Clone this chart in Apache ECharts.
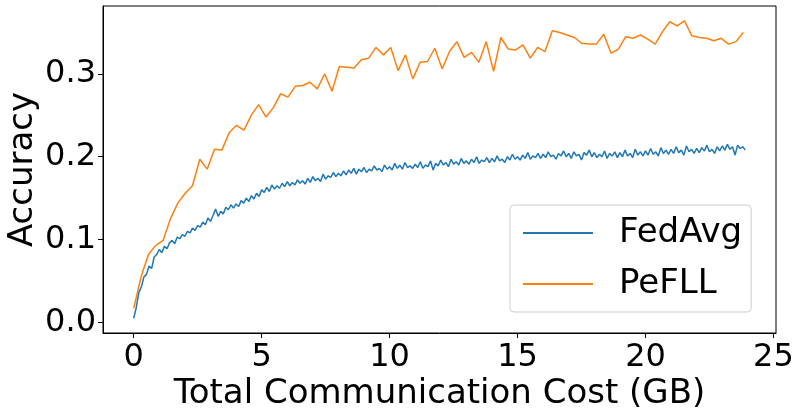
<!DOCTYPE html>
<html>
<head>
<meta charset="utf-8">
<script src="https://cdn.jsdelivr.net/npm/echarts@6/dist/echarts.min.js"></script>
<style>
  html, body { margin: 0; padding: 0; background: #fff; }
  #chart { width: 800px; height: 416px; }
</style>
</head>
<body>
<div id="chart"></div>
<script>
// communication cost per evaluation round (GB)
const fedAvgStep = 0.1
const peFLLStep = 0.287

const xTicks = [0, 5, 10, 15, 20, 25]
const yTicks = [0, 0.1, 0.2, 0.3]

const fedAvgAcc = [
  0.005, 0.018, 0.036, 0.043, 0.055, 0.058, 0.068, 0.065, 0.079, 0.082,
  0.088, 0.084, 0.092, 0.089, 0.096, 0.099, 0.095, 0.103, 0.101, 0.106,
  0.104, 0.110, 0.108, 0.114, 0.111, 0.117, 0.115, 0.121, 0.118, 0.126,
  0.122, 0.129, 0.137, 0.128, 0.134, 0.131, 0.139, 0.136, 0.142, 0.138,
  0.143, 0.140, 0.147, 0.144, 0.150, 0.146, 0.153, 0.149, 0.156, 0.152,
  0.160, 0.157, 0.163, 0.158, 0.166, 0.161, 0.165, 0.162, 0.168, 0.164,
  0.170, 0.165, 0.169, 0.166, 0.172, 0.168, 0.171, 0.167, 0.174, 0.169,
  0.176, 0.171, 0.174, 0.170, 0.179, 0.173, 0.177, 0.175, 0.181, 0.176,
  0.180, 0.177, 0.183, 0.178, 0.184, 0.180, 0.186, 0.179, 0.185, 0.182,
  0.187, 0.181, 0.185, 0.183, 0.189, 0.184, 0.186, 0.182, 0.190, 0.185,
  0.188, 0.184, 0.192, 0.186, 0.190, 0.185, 0.193, 0.187, 0.189, 0.186,
  0.191, 0.187, 0.194, 0.186, 0.190, 0.188, 0.195, 0.184, 0.192, 0.189,
  0.196, 0.190, 0.193, 0.188, 0.197, 0.191, 0.194, 0.190, 0.198, 0.192,
  0.195, 0.191, 0.197, 0.193, 0.200, 0.192, 0.196, 0.194, 0.199, 0.193,
  0.198, 0.194, 0.201, 0.195, 0.197, 0.193, 0.200, 0.196, 0.203, 0.197,
  0.200, 0.196, 0.202, 0.198, 0.205, 0.197, 0.201, 0.199, 0.204, 0.198,
  0.203, 0.199, 0.206, 0.200, 0.202, 0.197, 0.204, 0.201, 0.207, 0.200,
  0.204, 0.198, 0.206, 0.201, 0.203, 0.196, 0.205, 0.202, 0.208, 0.200,
  0.205, 0.199, 0.203, 0.200, 0.207, 0.198, 0.204, 0.201, 0.206, 0.199,
  0.205, 0.200, 0.208, 0.201, 0.204, 0.199, 0.209, 0.202, 0.206, 0.201,
  0.207, 0.202, 0.210, 0.203, 0.206, 0.201, 0.211, 0.204, 0.208, 0.203,
  0.209, 0.204, 0.212, 0.205, 0.208, 0.202, 0.213, 0.206, 0.209, 0.204,
  0.210, 0.205, 0.211, 0.207, 0.214, 0.206, 0.209, 0.204, 0.212, 0.207,
  0.213, 0.208, 0.215, 0.209, 0.212, 0.202, 0.214, 0.210, 0.212, 0.208
]

const peFLLAcc = [
  0.017, 0.055, 0.082, 0.093, 0.099, 0.125, 0.144, 0.156, 0.165, 0.197,
  0.185, 0.209, 0.208, 0.229, 0.238, 0.232, 0.250, 0.263, 0.248, 0.259,
  0.276, 0.272, 0.285, 0.286, 0.290, 0.282, 0.300, 0.279, 0.309, 0.308,
  0.307, 0.317, 0.319, 0.332, 0.323, 0.332, 0.304, 0.323, 0.294, 0.314,
  0.315, 0.331, 0.306, 0.327, 0.339, 0.320, 0.326, 0.314, 0.339, 0.303,
  0.344, 0.330, 0.329, 0.335, 0.319, 0.332, 0.327, 0.352, 0.350, 0.347,
  0.344, 0.337, 0.336, 0.336, 0.348, 0.325, 0.330, 0.345, 0.343, 0.347,
  0.342, 0.336, 0.351, 0.363, 0.358, 0.364, 0.346, 0.344, 0.343, 0.340,
  0.343, 0.336, 0.339, 0.350
]

const font = 'DejaVu Sans'
const chart = echarts.init(document.getElementById('chart'))
chart.setOption({
  animation: false,
  textStyle: { fontFamily: font },
  grid: {
    left: 103,
    right: 24,
    top: 6,
    bottom: 83,
    show: true,
    borderColor: '#000',
    borderWidth: 1,
    outerBoundsMode: 'none'
  },
  legend: {
    orient: 'vertical',
    left: 510,
    top: 205,
    padding: [11, 9, 11, 13],
    icon: 'rect',
    itemWidth: 70,
    itemHeight: 2,
    itemGap: 17,
    backgroundColor: 'rgba(255,255,255,0.8)',
    borderColor: '#ccc',
    borderWidth: 1,
    borderRadius: 4,
    textStyle: { fontFamily: font, fontSize: 34, color: '#000', padding: [0, 0, 0, 21], lineHeight: 34 }
  },
  xAxis: {
    type: 'value',
    min: -1.2,
    max: 25.1,
    name: 'Total Communication Cost (GB)',
    nameLocation: 'middle',
    nameGap: 44,
    nameMoveOverlap: false,
    nameTextStyle: { fontFamily: font, fontSize: 34, color: '#000' },
    axisLine: { show: true, onZero: false, lineStyle: { color: '#000', width: 1 } },
    axisTick: { show: true, length: 5, lineStyle: { color: '#000' }, customValues: xTicks },
    axisLabel: { fontSize: 32, color: '#000', margin: 9, customValues: xTicks },
    splitLine: { show: false }
  },
  yAxis: {
    type: 'value',
    min: -0.0128,
    max: 0.382,
    name: 'Accuracy',
    nameLocation: 'middle',
    nameGap: 63,
    nameMoveOverlap: false,
    nameTextStyle: { fontFamily: font, fontSize: 34, color: '#000' },
    axisLine: { show: true, onZero: false, lineStyle: { color: '#000', width: 1 } },
    axisTick: { show: true, length: 5, lineStyle: { color: '#000' }, customValues: yTicks },
    axisLabel: { fontSize: 32, color: '#000', margin: 7, customValues: yTicks, formatter: v => v.toFixed(1) },
    splitLine: { show: false }
  },
  series: [
    {
      name: 'FedAvg',
      type: 'line',
      symbol: 'none',
      color: '#1f77b4',
      lineStyle: { width: 1.5 },
      data: fedAvgAcc.map((v, i) => [i * fedAvgStep, v])
    },
    {
      name: 'PeFLL',
      type: 'line',
      symbol: 'none',
      color: '#ff7f0e',
      lineStyle: { width: 1.5 },
      data: peFLLAcc.map((v, i) => [i * peFLLStep, v])
    }
  ]
})
</script>
</body>
</html>
